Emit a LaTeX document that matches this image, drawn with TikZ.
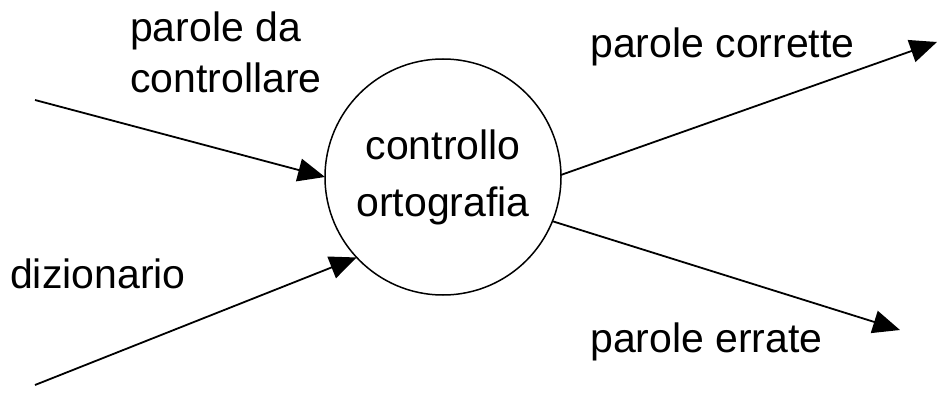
\documentclass[tikz,border=0pt]{standalone}
\usepackage{fontspec}
\setmainfont{Liberation Sans}
\usetikzlibrary{arrows.meta}
\begin{document}
\begin{tikzpicture}[x=1pt,y=-1pt,
  lbl/.style={anchor=base west,inner sep=0pt,font=\fontsize{41}{50}\selectfont},
  flow/.style={line width=1.8pt,-{Triangle[length=27pt,width=23pt]}},
  proc/.style={circle,draw,line width=1.5pt,minimum size=236pt,inner sep=0pt,outer sep=0pt,align=center,font=\fontsize{41}{57}\selectfont}]
\useasboundingbox (0,0) rectangle (938,393);
\node[proc] (c) at (443,177) {controllo\\ortografia};
\coordinate (in1) at (35,100);
\coordinate (in2) at (35,385);
\coordinate (out1) at (937,42);
\coordinate (out2) at (900,330);
\draw[flow] (in1) -- (c.180);
\draw[flow] (in2) -- (c.223);
\draw[flow] (c.1) -- (out1);
\draw[flow] (c.-22) -- (out2);
\node[lbl] (l1) at (130,42) {parole da};
\node[lbl] (l2) at (130,93) {controllare};
\node[lbl] (l3) at (10,288) {dizionario};
\node[lbl] (l4) at (590,58) {parole corrette};
\node[lbl] (l5) at (590,352) {parole errate};
\end{tikzpicture}
\end{document}
